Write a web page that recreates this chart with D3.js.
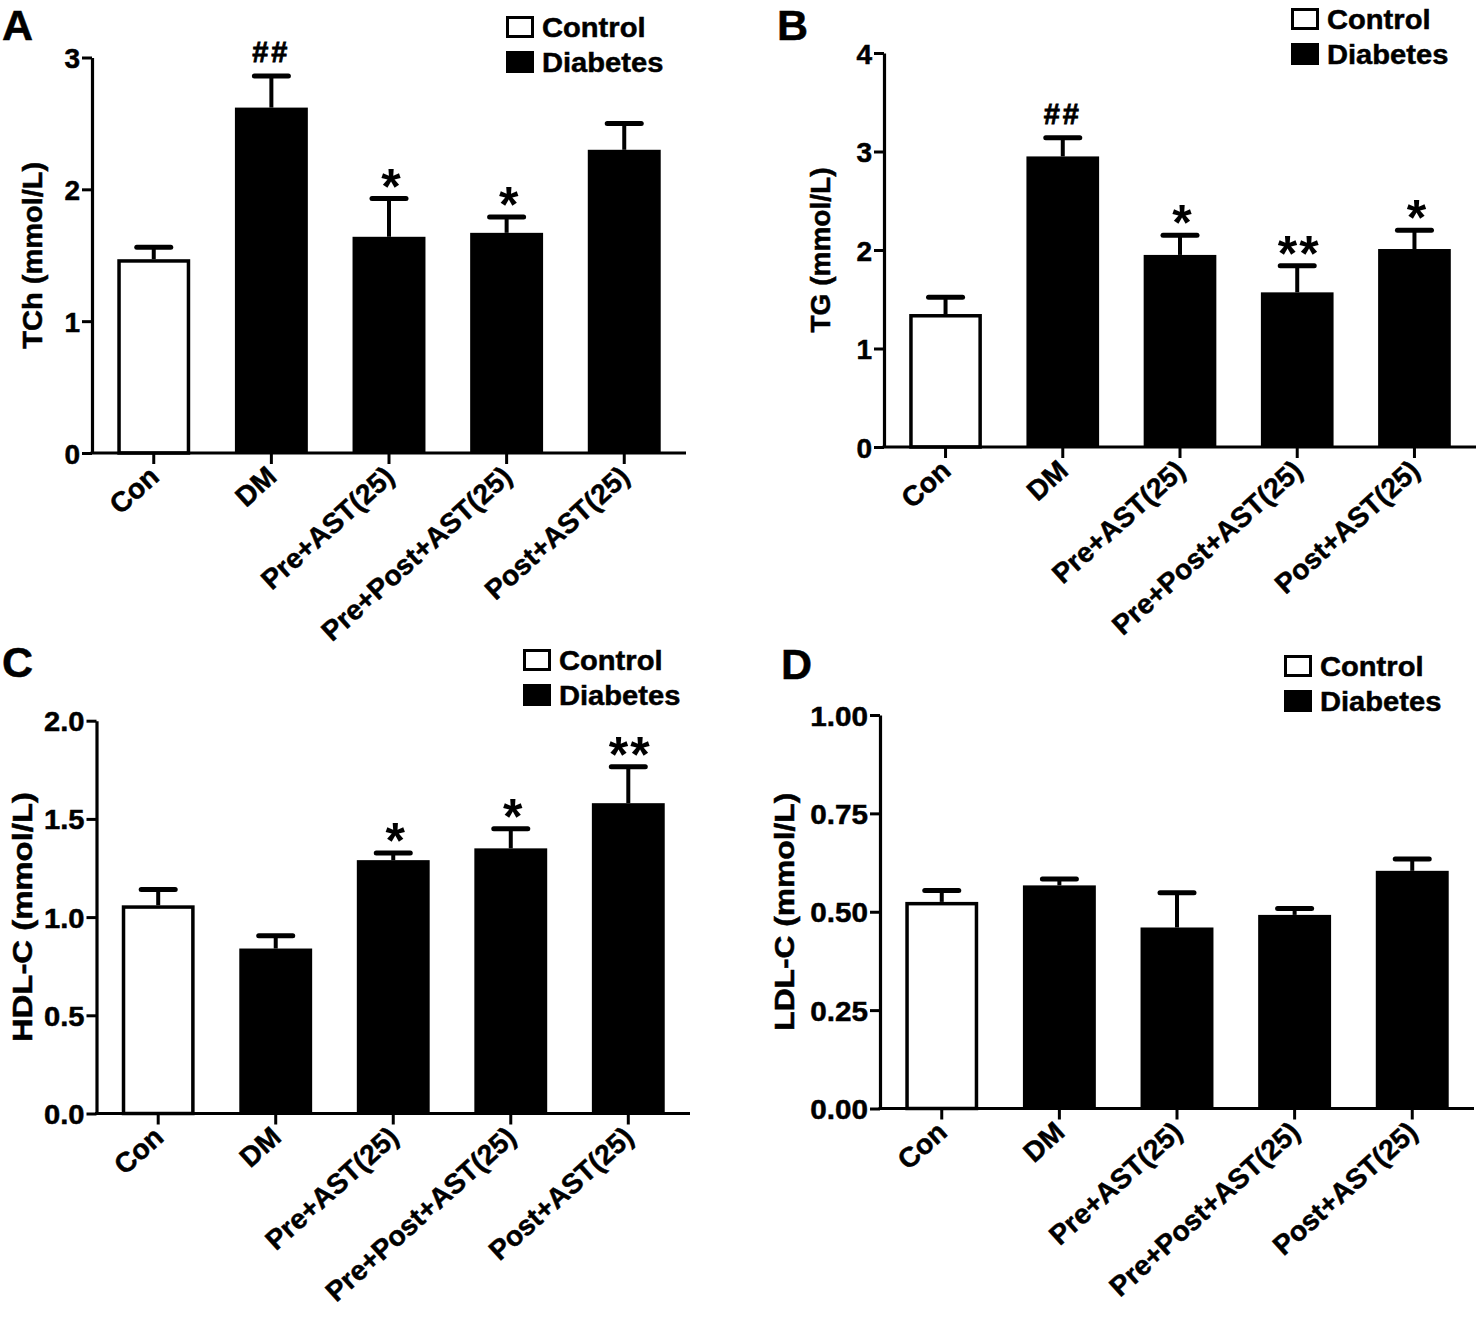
<!DOCTYPE html>
<html>
<head>
<meta charset="utf-8">
<script src="https://cdn.jsdelivr.net/npm/d3@7"></script>
<style>
  html, body { margin: 0; padding: 0; background: #fff; }
  svg { display: block; }
  text { font-family: "Liberation Sans", Arial, Helvetica, sans-serif; font-weight: bold; fill: #000; stroke: #000; stroke-width: 0.5px; }
</style>
</head>
<body>
<svg id="chart" width="1476" height="1331"></svg>
<script>
// ---------------- data ----------------
const groups = ["Con", "DM", "Pre+AST(25)", "Pre+Post+AST(25)", "Post+AST(25)"];
const groupType = ["Control", "Diabetes", "Diabetes", "Diabetes", "Diabetes"];
const legendLabels = ["Control", "Diabetes"];

const tchMean = [1.47, 2.62, 1.64, 1.67, 2.30];
const tchSem  = [0.09, 0.24, 0.29, 0.12, 0.20];
const tchSig  = ["", "##", "*", "*", ""];
const tchTicks = [0, 1, 2, 3];

const tgMean = [1.35, 2.95, 1.95, 1.57, 2.01];
const tgSem  = [0.17, 0.19, 0.20, 0.27, 0.19];
const tgSig  = ["", "##", "*", "**", "*"];
const tgTicks = [0, 1, 2, 3, 4];

const hdlMean = [1.06, 0.84, 1.29, 1.35, 1.58];
const hdlSem  = [0.08, 0.065, 0.037, 0.10, 0.185];
const hdlSig  = ["", "", "*", "*", "**"];
const hdlTicks = [0, 0.5, 1.0, 1.5, 2.0];

const ldlMean = [0.525, 0.567, 0.460, 0.492, 0.604];
const ldlSem  = [0.029, 0.016, 0.088, 0.016, 0.030];
const ldlSig  = ["", "", "", "", ""];
const ldlTicks = [0, 0.25, 0.50, 0.75, 1.00];

// ---------------- drawing ----------------
const svg = d3.select("#chart");

function widen(sel, f) {
  sel.each(function () {
    const L = this.getComputedTextLength();
    d3.select(this).attr("textLength", L * f).attr("lengthAdjust", "spacingAndGlyphs");
  });
}

function panel(cfg) {
  const g = svg.append("g");
  const x = d3.scaleBand().domain(groups).range([cfg.x0, cfg.x1])
    .paddingInner(0.38).paddingOuter(0.215);
  const y = d3.scaleLinear().domain([0, cfg.ticks[cfg.ticks.length - 1]])
    .range([cfg.yb, cfg.yt]);

  const rows = groups.map((k, i) => ({
    k, type: groupType[i], m: cfg.mean[i], e: cfg.sem[i], s: cfg.sig[i]
  }));

  // error bars
  const eb = g.append("g").attr("stroke", "#000").attr("fill", "none");
  eb.selectAll("line.stem").data(rows).join("line")
    .attr("class", "stem")
    .attr("x1", d => x(d.k) + x.bandwidth() / 2)
    .attr("x2", d => x(d.k) + x.bandwidth() / 2)
    .attr("y1", d => y(d.m))
    .attr("y2", d => y(d.m + d.e))
    .attr("stroke-width", 4);
  eb.selectAll("line.cap").data(rows).join("line")
    .attr("class", "cap")
    .attr("x1", d => x(d.k) + x.bandwidth() / 2 - 17)
    .attr("x2", d => x(d.k) + x.bandwidth() / 2 + 17)
    .attr("y1", d => y(d.m + d.e))
    .attr("y2", d => y(d.m + d.e))
    .attr("stroke-width", 5)
    .attr("stroke-linecap", "round");

  // bars
  g.selectAll("rect.bar").data(rows).join("rect")
    .attr("class", "bar")
    .attr("x", d => d.type === "Control" ? x(d.k) + 1.75 : x(d.k))
    .attr("width", d => d.type === "Control" ? x.bandwidth() - 3.5 : x.bandwidth())
    .attr("y", d => d.type === "Control" ? y(d.m) + 1.75 : y(d.m))
    .attr("height", d => d.type === "Control" ? y(0) - y(d.m) - 1.75 : y(0) - y(d.m))
    .attr("fill", d => d.type === "Control" ? "#fff" : "#000")
    .attr("stroke", "#000")
    .attr("stroke-width", d => d.type === "Control" ? 3.5 : 0);

  // significance marks
  g.selectAll("text.sig").data(rows.filter(d => d.s)).join("text")
    .attr("class", "sig")
    .attr("text-anchor", "middle")
    .attr("x", d => x(d.k) + x.bandwidth() / 2 + (d.s.startsWith("*") ? 2 : 0))
    .attr("y", d => d.s.startsWith("*") ? y(d.m + d.e) + 5 : y(d.m + d.e) - 14)
    .attr("font-size", d => d.s.startsWith("*") ? 50 : 29)
    .attr("letter-spacing", d => d.s === "**" ? 2 : (d.s === "##" ? 3 : 0))
    .style("stroke-width", d => d.s.startsWith("*") ? "0px" : "0.8px")
    .text(d => d.s);

  // y axis
  const ya = g.append("g").attr("transform", `translate(${cfg.x0},0)`)
    .call(d3.axisLeft(y).tickValues(cfg.ticks).tickFormat(d3.format(cfg.fmt))
      .tickSize(10).tickSizeOuter(0).tickPadding(2));
  ya.select(".domain").attr("stroke-width", 3.2).attr("stroke", "#000");
  ya.selectAll(".tick line").attr("stroke-width", 3).attr("stroke", "#000");
  const yt = ya.selectAll(".tick text").attr("font-size", 28).attr("dy", "0.36em")
    .attr("fill", "#000")
    .style("font-family", "'Liberation Sans', Arial, sans-serif").style("font-weight", "bold");
  widen(yt, cfg.tickWiden);

  // x axis
  const xa = g.append("g").attr("transform", `translate(0,${cfg.yb})`)
    .call(d3.axisBottom(x).tickSize(11).tickSizeOuter(0).tickFormat(""));
  xa.select(".domain").attr("stroke-width", 3.2).attr("stroke", "#000")
    .attr("d", `M${cfg.x0 - 1.5},0H${cfg.x1}`);
  xa.selectAll(".tick line").attr("stroke-width", 3).attr("stroke", "#000");

  g.selectAll("text.xl").data(groups).join("text")
    .attr("class", "xl")
    .attr("text-anchor", "end")
    .attr("font-size", 28)
    .attr("transform", d => `translate(${x(d) + x.bandwidth() / 2 + 7},${cfg.yb + 26}) rotate(-42)`)
    .text(d => d);

  // y title
  g.append("text")
    .attr("text-anchor", "middle")
    .attr("font-size", 28)
    .attr("transform", `translate(${cfg.titleX},${(cfg.yb + cfg.yt) / 2}) rotate(-90)`)
    .attr("textLength", cfg.titleLen)
    .attr("lengthAdjust", "spacingAndGlyphs")
    .text(cfg.title);

  // panel letter
  g.append("text").attr("x", cfg.letterX).attr("y", cfg.letterY)
    .attr("font-size", 43).text(cfg.letter);

  // legend
  const lg = g.append("g");
  legendLabels.forEach((lab, i) => {
    const yy = cfg.legY + i * 35;
    lg.append("rect")
      .attr("x", cfg.legX + (i === 0 ? 1.5 : 0))
      .attr("y", yy + (i === 0 ? 1.5 : 0))
      .attr("width", i === 0 ? 25 : 28)
      .attr("height", i === 0 ? 19 : 22)
      .attr("fill", i === 0 ? "#fff" : "#000")
      .attr("stroke", "#000")
      .attr("stroke-width", i === 0 ? 3 : 0);
    const t = lg.append("text").attr("x", cfg.legX + 36).attr("y", yy + 21)
      .attr("font-size", 28).text(lab);
    widen(t, 1.04);
  });
}

panel({ mean: tchMean, sem: tchSem, sig: tchSig, ticks: tchTicks, fmt: "d",
  x0: 92, x1: 686, yb: 453, yt: 57.5, title: "TCh (mmol/L)", titleX: 42, titleLen: 187,
  tickWiden: 1.0,
  letter: "A", letterX: 2, letterY: 40, legX: 506, legY: 16 });

panel({ mean: tgMean, sem: tgSem, sig: tgSig, ticks: tgTicks, fmt: "d",
  x0: 884, x1: 1476, yb: 447, yt: 53, title: "TG (mmol/L)", titleX: 830, titleLen: 165,
  tickWiden: 1.0,
  letter: "B", letterX: 777, letterY: 40, legX: 1291, legY: 8 });

panel({ mean: hdlMean, sem: hdlSem, sig: hdlSig, ticks: hdlTicks, fmt: ".1f",
  x0: 96.5, x1: 690, yb: 1113.5, yt: 720.7, title: "HDL-C (mmol/L)", titleX: 32, titleLen: 250,
  tickWiden: 1.04,
  letter: "C", letterX: 2, letterY: 677, legX: 523, legY: 649 });

panel({ mean: ldlMean, sem: ldlSem, sig: ldlSig, ticks: ldlTicks, fmt: ".2f",
  x0: 880, x1: 1474, yb: 1108.5, yt: 715, title: "LDL-C (mmol/L)", titleX: 794, titleLen: 238,
  tickWiden: 1.06,
  letter: "D", letterX: 781, letterY: 679, legX: 1284, legY: 655 });
</script>
</body>
</html>
